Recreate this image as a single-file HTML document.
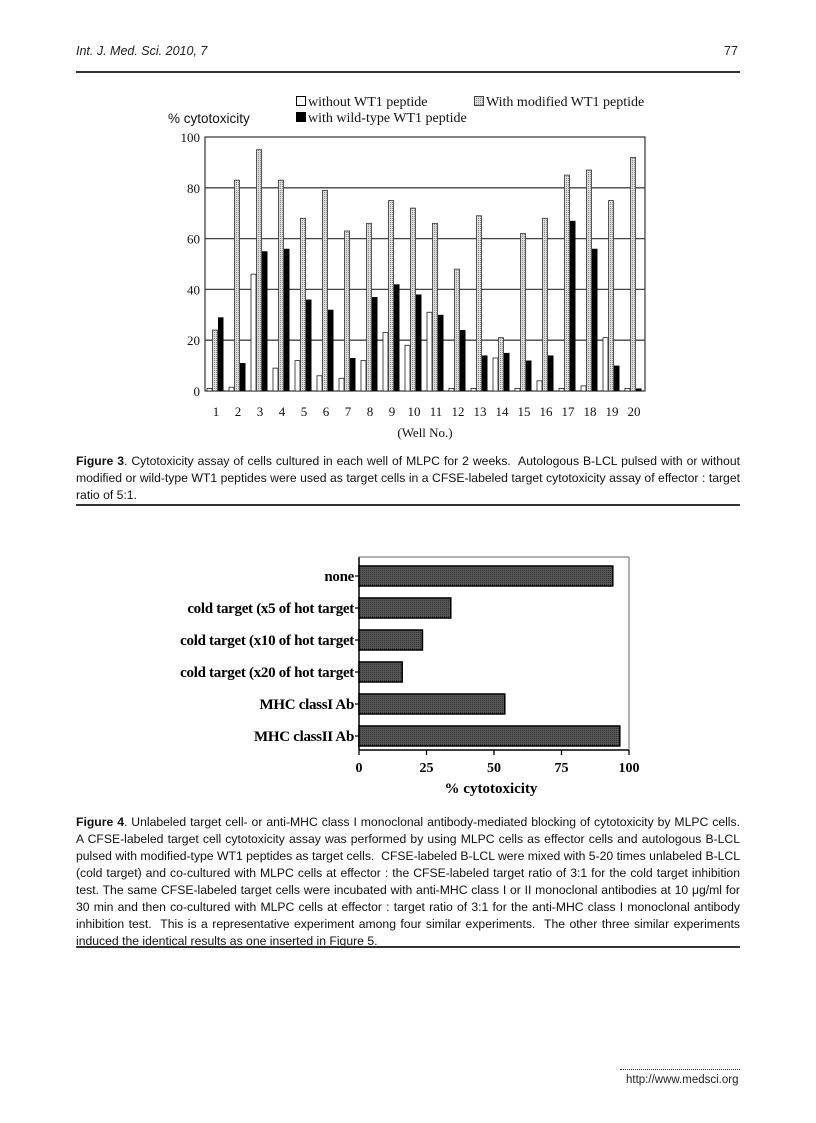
<!DOCTYPE html>
<html><head><meta charset="utf-8"><style>
body{margin:0;background:#fff}
#p{position:relative;width:816px;height:1123px;overflow:hidden;font-family:"Liberation Sans",sans-serif}
.cap{position:absolute;left:76px;width:664px;font-size:12.2px;line-height:17px;text-align:justify;color:#111;letter-spacing:0px}
.rule{position:absolute;left:76px;width:664px;height:2px;background:#333}
svg{position:absolute;left:0;top:0}
</style></head><body><div id="p">
<div style="position:absolute;left:76px;top:44px;font-size:12.5px;font-style:italic;color:#222">Int. J. Med. Sci. 2010, 7</div>
<div style="position:absolute;left:724px;top:44px;font-size:12.5px;color:#222">77</div>
<div class="rule" style="top:71px;height:1.5px"></div>

<svg width="816" height="1123" xmlns="http://www.w3.org/2000/svg">
<defs>
<pattern id="g" width="2" height="2" patternUnits="userSpaceOnUse"><rect width="2" height="2" fill="#ddd"/><rect width="1" height="1" fill="#888"/></pattern>
<pattern id="d" width="2" height="2" patternUnits="userSpaceOnUse"><rect width="2" height="2" fill="#555"/><rect width="1" height="1" fill="#333"/></pattern>
</defs>
<g font-family="Liberation Serif,serif" font-size="14" fill="#111">
<rect x="296.5" y="96.5" width="9" height="9" fill="#fff" stroke="#000"/>
<text x="308" y="106">without WT1 peptide</text>
<rect x="474.5" y="96.5" width="9" height="9" fill="url(#g)" stroke="#444"/>
<text x="486" y="106">With modified WT1 peptide</text>
<rect x="296" y="112" width="10" height="10" fill="#000"/>
<text x="308" y="122">with wild-type WT1 peptide</text>
</g>
<text x="168" y="123" font-family="Liberation Sans,sans-serif" font-size="13.5" fill="#111">% cytotoxicity</text>
<g id="c3"></g>
<g id="c4"></g>
</svg>

<div class="cap" style="top:453px"><b>Figure 3</b>. Cytotoxicity assay of cells cultured in each well of MLPC for 2 weeks.&nbsp; Autologous B-LCL pulsed with or without modified or wild-type WT1 peptides were used as target cells in a CFSE-labeled target cytotoxicity assay of effector : target ratio of 5:1.</div>
<div class="rule" style="top:504px"></div>

<div class="cap" style="top:814px"><b>Figure 4</b>. Unlabeled target cell- or anti-MHC class I monoclonal antibody-mediated blocking of cytotoxicity by MLPC cells. A CFSE-labeled target cell cytotoxicity assay was performed by using MLPC cells as effector cells and autologous B-LCL pulsed with modified-type WT1 peptides as target cells.&nbsp; CFSE-labeled B-LCL were mixed with 5-20 times unlabeled B-LCL (cold target) and co-cultured with MLPC cells at effector : the CFSE-labeled target ratio of 3:1 for the cold target inhibition test. The same CFSE-labeled target cells were incubated with anti-MHC class I or II monoclonal antibodies at 10 μg/ml for 30 min and then co-cultured with MLPC cells at effector : target ratio of 3:1 for the anti-MHC class I monoclonal antibody inhibition test.&nbsp; This is a representative experiment among four similar experiments.&nbsp; The other three similar experiments induced the identical results as one inserted in Figure 5.</div>
<div class="rule" style="top:946px"></div>

<div style="position:absolute;left:620px;top:1069px;width:120px;border-top:1px dotted #333"></div>
<div style="position:absolute;left:626px;top:1074px;font-size:11.5px;color:#222">http://www.medsci.org</div>
</div>
<script>
var NS="http://www.w3.org/2000/svg";
function el(p,t,a,txt){var e=document.createElementNS(NS,t);for(var k in a)e.setAttribute(k,a[k]);if(txt!=null)e.textContent=txt;p.appendChild(e);return e;}
var c3=document.getElementById("c3"),c4=document.getElementById("c4");
var X0=205,X1=645,Y0=391,S=2.54;
el(c3,"rect",{x:X0,y:137,width:X1-X0,height:Y0-137,fill:"none",stroke:"#333","stroke-width":1.2});
for(var v=0;v<=100;v+=20){var y=Y0-v*S;
 if(v>0&&v<100)el(c3,"line",{x1:X0,x2:X1,y1:y,y2:y,stroke:"#444","stroke-width":1.3});
 el(c3,"text",{x:200,y:y+5,"font-family":"Liberation Serif,serif","font-size":13,"text-anchor":"end",fill:"#111"},v);}
var D=[[1,24,29],[1.5,83,11],[46,95,55],[9,83,56],[12,68,36],[6,79,32],[5,63,13],[12,66,37],[23,75,42],[18,72,38],[31,66,30],[1,48,24],[1,69,14],[13,21,15],[1,62,12],[4,68,14],[1,85,67],[2,87,56],[21,75,10],[1,92,1]];
D.forEach(function(d,i){var gx=X0+i*22;
 el(c3,"rect",{x:gx+2,y:Y0-d[0]*S,width:5,height:d[0]*S,fill:"#fff",stroke:"#222","stroke-width":0.8});
 el(c3,"rect",{x:gx+7.5,y:Y0-d[1]*S,width:5,height:d[1]*S,fill:"url(#g)",stroke:"#333","stroke-width":0.8});
 el(c3,"rect",{x:gx+13,y:Y0-d[2]*S,width:5.5,height:d[2]*S,fill:"#000"});
 el(c3,"text",{x:gx+11,y:416,"font-family":"Liberation Serif,serif","font-size":13,"text-anchor":"middle",fill:"#111"},i+1);});
el(c3,"text",{x:425,y:437,"font-family":"Liberation Serif,serif","font-size":13,"text-anchor":"middle",fill:"#111"},"(Well No.)");
var A=359,B=629,T=557,Bt=750;
el(c4,"line",{x1:A,x2:A,y1:T,y2:Bt,stroke:"#000","stroke-width":1.5});
el(c4,"line",{x1:A,x2:B,y1:Bt,y2:Bt,stroke:"#000","stroke-width":1.5});
el(c4,"line",{x1:A,x2:B,y1:T,y2:T,stroke:"#666","stroke-width":1});
el(c4,"line",{x1:B,x2:B,y1:T,y2:Bt,stroke:"#666","stroke-width":1});
[0,25,50,75,100].forEach(function(v){var x=A+v*2.7;
 el(c4,"line",{x1:x,x2:x,y1:Bt,y2:Bt+5,stroke:"#000","stroke-width":1.3});
 el(c4,"text",{x:x,y:772,"font-family":"Liberation Serif,serif","font-size":14,"font-weight":"bold","text-anchor":"middle",fill:"#000"},v);});
el(c4,"text",{x:491,y:793,"font-family":"Liberation Serif,serif","font-size":15,"font-weight":"bold","text-anchor":"middle",fill:"#000"},"% cytotoxicity");
var L=["none","cold target (x5 of hot target","cold target (x10 of hot target","cold target (x20 of hot target","MHC classI Ab","MHC classII Ab"];
var V=[94,34,23.5,16,54,96.6],C=[576,608,640,672,704,736];
L.forEach(function(l,i){
 el(c4,"rect",{x:A,y:C[i]-10,width:V[i]*2.7,height:20,fill:"url(#d)",stroke:"#000","stroke-width":1.5});
 el(c4,"line",{x1:A-4,x2:A,y1:C[i],y2:C[i],stroke:"#000","stroke-width":1.2});
 el(c4,"text",{x:A-5,y:C[i]+5,"font-family":"Liberation Serif,serif","font-size":15,"font-weight":"bold","text-anchor":"end",fill:"#000","letter-spacing":"-0.3"},l);});
</script>
</body></html>
